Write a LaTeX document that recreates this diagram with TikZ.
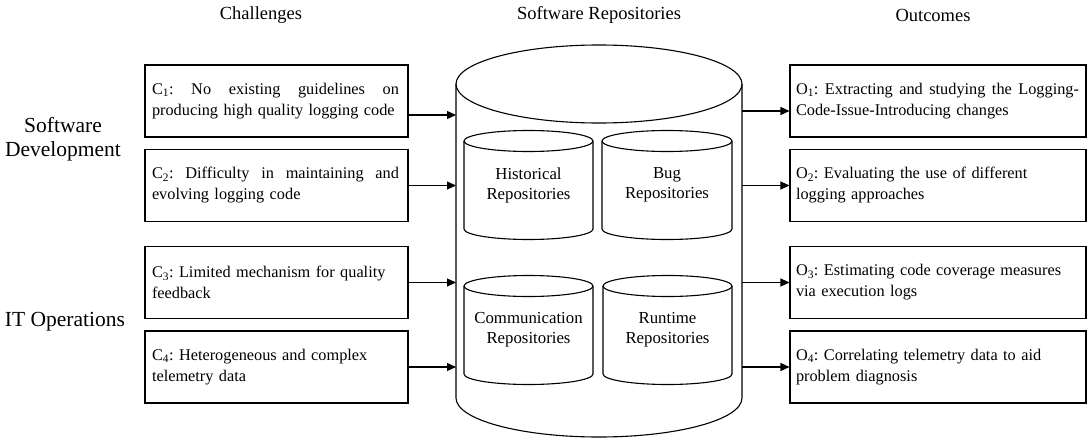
\documentclass[tikz,border=0pt]{standalone}
\usepackage{fontspec}
\setmainfont{Liberation Serif}
\frenchspacing
\usetikzlibrary{arrows.meta,calc}
\tikzset{
  every picture/.style={x=1pt,y=-1pt},
  lw/.style={line width=1.1pt},
  cbox/.style={lw,draw,rectangle,minimum height=72pt,inner xsep=7pt,text width=249pt,align=left,font=\fontsize{16.3}{21}\selectfont},
  obox/.style={lw,draw,rectangle,minimum height=72pt,inner xsep=6pt,text width=284pt,align=left,font=\fontsize{16.3}{21}\selectfont},
  arr/.style={lw,-{Triangle[length=9pt,width=8pt]}},
  cyltext/.style={align=center,font=\fontsize{16.8}{20}\selectfont},
  head/.style={font=\fontsize{18.5}{22}\selectfont},
  side/.style={align=center,font=\fontsize{21.5}{24}\selectfont},
}
\newcommand\repocyl[4]{% cx, top, bottom, rx
  \draw[lw] ({#1-#4},#2) -- ({#1-#4},#3) arc[start angle=180,end angle=0,x radius=#4,y radius=10.5] -- ({#1+#4},#2);
  \draw[lw] (#1,#2) ellipse[x radius=#4,y radius=10.5];
}
\begin{document}
\begin{tikzpicture}
\useasboundingbox (0,0) rectangle (1087,439);
% headers
\node[head] (hc) at (261,15) {Challenges};
\node[head] (hs) at (599,15) {Software Repositories};
\node[head] (ho) at (933,15) {Outcomes};
% side labels
\node[side] (sd) at (63,139) {Software\\Development};
\node[side] (it) at (65,322) {IT Operations};
% challenge boxes
\node[cbox] (c1) at (276.5,101) {\hbox to 247pt{C\textsubscript{1}:\hfill No\hfill existing\hfill guidelines\hfill on}\\producing high quality logging code};
\node[cbox] (c2) at (276.5,185.5) {\hbox to 247pt{C\textsubscript{2}:\hfill Difficulty\hfill in\hfill maintaining\hfill and}\\evolving logging code};
\node[cbox] (c3) at (276.5,282.5) {C\textsubscript{3}: Limited mechanism for quality\\feedback};
\node[cbox] (c4) at (276.5,367) {C\textsubscript{4}: Heterogeneous and complex\\telemetry data};
% outcome boxes
\node[obox] (o1) at (938,101) {\hbox to 283pt{O\textsubscript{1}:\hfill Extracting\hfill and\hfill studying\hfill the\hfill Logging-}\\Code-Issue-Introducing changes};
\node[obox] (o2) at (938,185.5) {O\textsubscript{2}: Evaluating the use of different\\logging approaches};
\node[obox] (o3) at (938,282.5) {O\textsubscript{3}: Estimating code coverage measures\\via execution logs};
\node[obox] (o4) at (938,367) {O\textsubscript{4}: Correlating telemetry data to aid\\problem diagnosis};
% big cylinder
\draw[lw] (456,84) -- (456,398) arc[start angle=180,end angle=0,x radius=143,y radius=39] -- (742,84);
\draw[lw] (599,84) ellipse[x radius=143,y radius=39];
\coordinate (cylL) at (456,84);
\coordinate (cylR) at (742,84);
% small cylinders
\repocyl{528.5}{141}{229}{64.5}
\repocyl{667}{141}{229}{65}
\repocyl{528.5}{286}{374}{64.5}
\repocyl{667.5}{286}{374}{64.5}
\node[cyltext] (hist) at (528.5,185) {Historical\\Repositories};
\node[cyltext] (bug) at (667,185) {Bug\\Repositories};
\node[cyltext] (comm) at (528.5,330) {Communication\\Repositories};
\node[cyltext] (run) at (667.5,330) {Runtime\\Repositories};
% arrows in
\coordinate (a1) at ([yshift=-14pt]c1.east);
\draw[arr] (a1) -- (a1 -| cylL);
\draw[arr] (c2.east) -- (c2.east -| cylL);
\draw[arr] (c3.east) -- (c3.east -| cylL);
\draw[arr] (c4.east) -- (c4.east -| cylL);
% arrows out
\coordinate (b1) at ([yshift=-10pt]o1.west);
\draw[arr] (b1 -| cylR) -- (b1);
\draw[arr] (o2.west -| cylR) -- (o2.west);
\draw[arr] (o3.west -| cylR) -- (o3.west);
\draw[arr] (o4.west -| cylR) -- (o4.west);
\end{tikzpicture}
\end{document}
